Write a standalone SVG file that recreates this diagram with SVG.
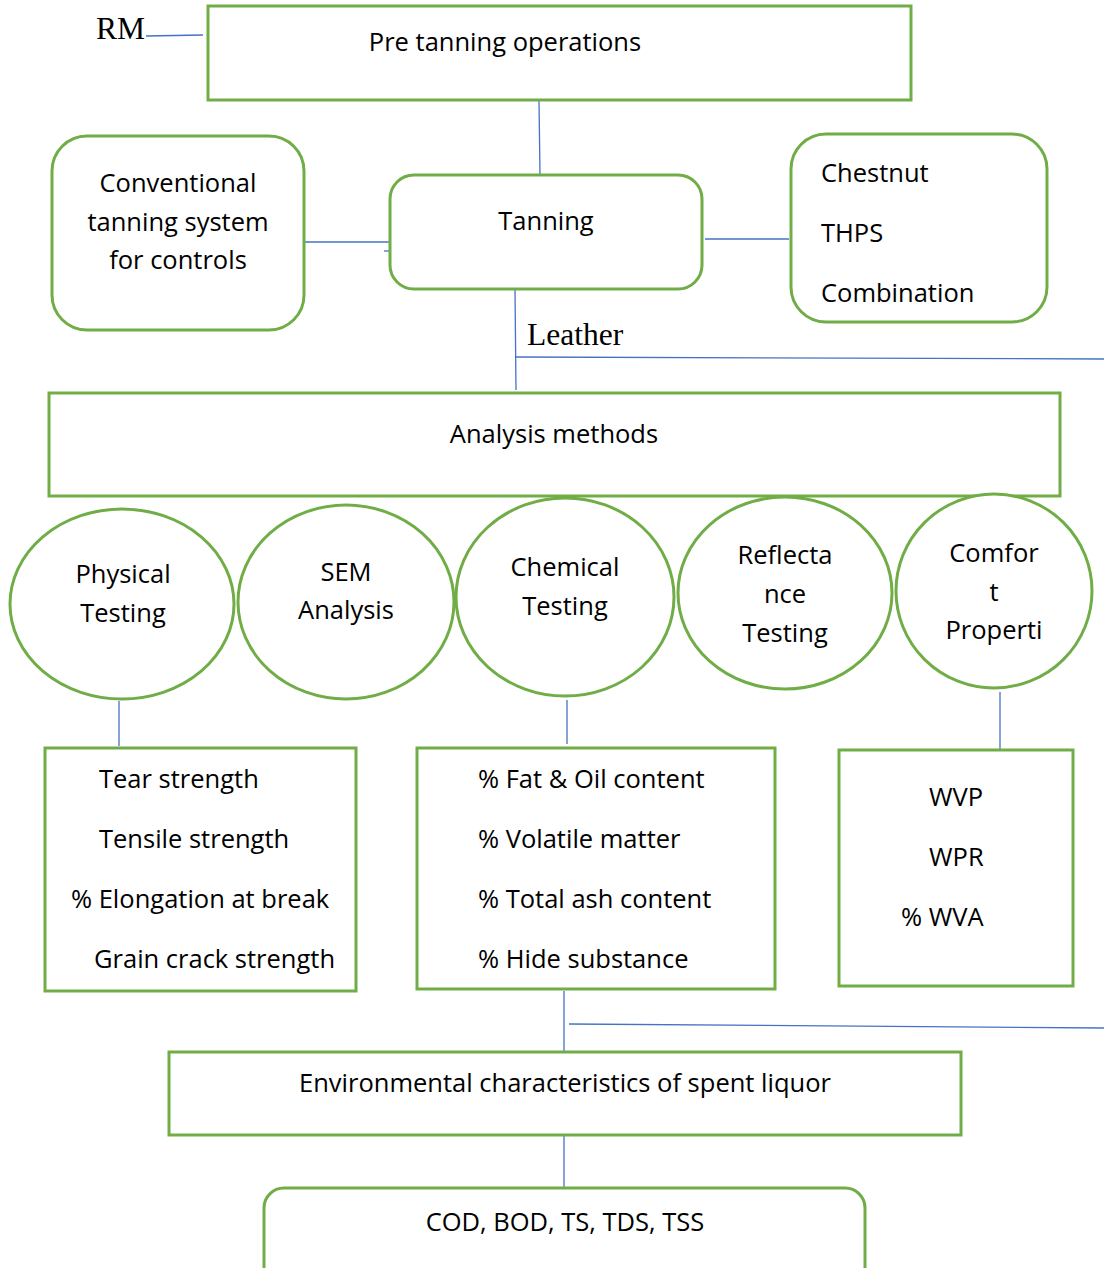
<svg xmlns="http://www.w3.org/2000/svg" width="1104" height="1268" viewBox="0 0 1104 1268">
<style>
.b{fill:#fff;stroke:#70AD47;stroke-width:3}
.c{stroke:#4472C4;stroke-width:1.3;fill:none}
text{font-family:"Open Sans","Noto Sans",sans-serif;font-size:25.5px;fill:#000}
.m{text-anchor:middle}
.t{font-family:"Liberation Serif","Times New Roman",serif;font-size:31.5px}
</style>
<rect width="1104" height="1268" fill="#fff"/>
<g id="connectors">
<line class="c" x1="146" y1="36" x2="203" y2="35"/>
<line class="c" x1="539" y1="101" x2="540" y2="174"/>
<line class="c" x1="305" y1="242" x2="390" y2="242"/>
<line class="c" x1="384" y1="251" x2="390" y2="251"/>
<line class="c" x1="705" y1="239" x2="789" y2="239"/>
<line class="c" x1="515" y1="290" x2="516" y2="390"/>
<line class="c" x1="516" y1="357" x2="1104" y2="359"/>
<line class="c" x1="119" y1="701" x2="119" y2="746"/>
<line class="c" x1="567" y1="700" x2="567" y2="744"/>
<line class="c" x1="1000" y1="692" x2="1000" y2="749"/>
<line class="c" x1="564" y1="991" x2="564" y2="1052"/>
<line class="c" x1="569" y1="1024" x2="1104" y2="1028"/>
<line class="c" x1="564" y1="1136" x2="564" y2="1187"/>
</g>
<g id="rm"><text class="t" x="96" y="39">RM</text></g>
<g id="pretanning"><rect class="b" x="208" y="6" width="703" height="94"/><text class="m" x="505" y="51">Pre tanning operations</text></g>
<g id="conventional"><rect class="b" x="52" y="136" width="252" height="194" rx="35"/>
<text class="m" x="178" y="192">Conventional</text><text class="m" x="178" y="231">tanning system</text><text class="m" x="178" y="269">for controls</text></g>
<g id="tanning"><rect class="b" x="390" y="175" width="312" height="114" rx="24"/><text class="m" x="546" y="230">Tanning</text></g>
<g id="agents"><rect class="b" x="791" y="134" width="256" height="188" rx="35"/>
<text x="821" y="182">Chestnut</text><text x="821" y="242">THPS</text><text x="821" y="302">Combination</text></g>
<g id="leather"><text class="t" x="527" y="345">Leather</text></g>
<g id="analysis"><rect class="b" x="49" y="393" width="1011" height="103"/><text class="m" x="554" y="443">Analysis methods</text></g>
<g id="physical"><ellipse class="b" cx="122" cy="604" rx="112" ry="95"/><text class="m" x="123" y="583">Physical</text><text class="m" x="123" y="622">Testing</text></g>
<g id="sem"><ellipse class="b" cx="346" cy="602" rx="108" ry="97"/><text class="m" x="346" y="581">SEM</text><text class="m" x="346" y="619">Analysis</text></g>
<g id="chemical"><ellipse class="b" cx="565" cy="597" rx="109" ry="99"/><text class="m" x="565" y="576">Chemical</text><text class="m" x="565" y="615">Testing</text></g>
<g id="reflectance"><ellipse class="b" cx="785" cy="593" rx="107" ry="96"/><text class="m" x="785" y="564">Reflecta</text><text class="m" x="785" y="603">nce</text><text class="m" x="785" y="642">Testing</text></g>
<g id="comfort"><ellipse class="b" cx="994" cy="591" rx="98" ry="97"/><text class="m" x="994" y="562">Comfor</text><text class="m" x="994" y="601">t</text><text class="m" x="994" y="639">Properti</text></g>
<g id="physicalprops"><rect class="b" x="45" y="748" width="311" height="243"/>
<text x="99" y="788">Tear strength</text><text x="99" y="848">Tensile strength</text><text x="71" y="908">% Elongation at break</text><text x="94" y="968">Grain crack strength</text></g>
<g id="chemprops"><rect class="b" x="417" y="748" width="358" height="241"/>
<text x="478" y="788">% Fat &amp; Oil content</text><text x="478" y="848">% Volatile matter</text><text x="478" y="908">% Total ash content</text><text x="478" y="968">% Hide substance</text></g>
<g id="comfortprops"><rect class="b" x="839" y="750" width="234" height="236"/>
<text x="929" y="806">WVP</text><text x="929" y="866">WPR</text><text x="901" y="926">% WVA</text></g>
<g id="environmental"><rect class="b" x="169" y="1052" width="792" height="83"/><text class="m" x="565" y="1092">Environmental characteristics of spent liquor</text></g>
<g id="cod"><rect class="b" x="264" y="1188" width="601" height="100" rx="20"/><text class="m" x="565" y="1231">COD, BOD, TS, TDS, TSS</text></g>
</svg>
